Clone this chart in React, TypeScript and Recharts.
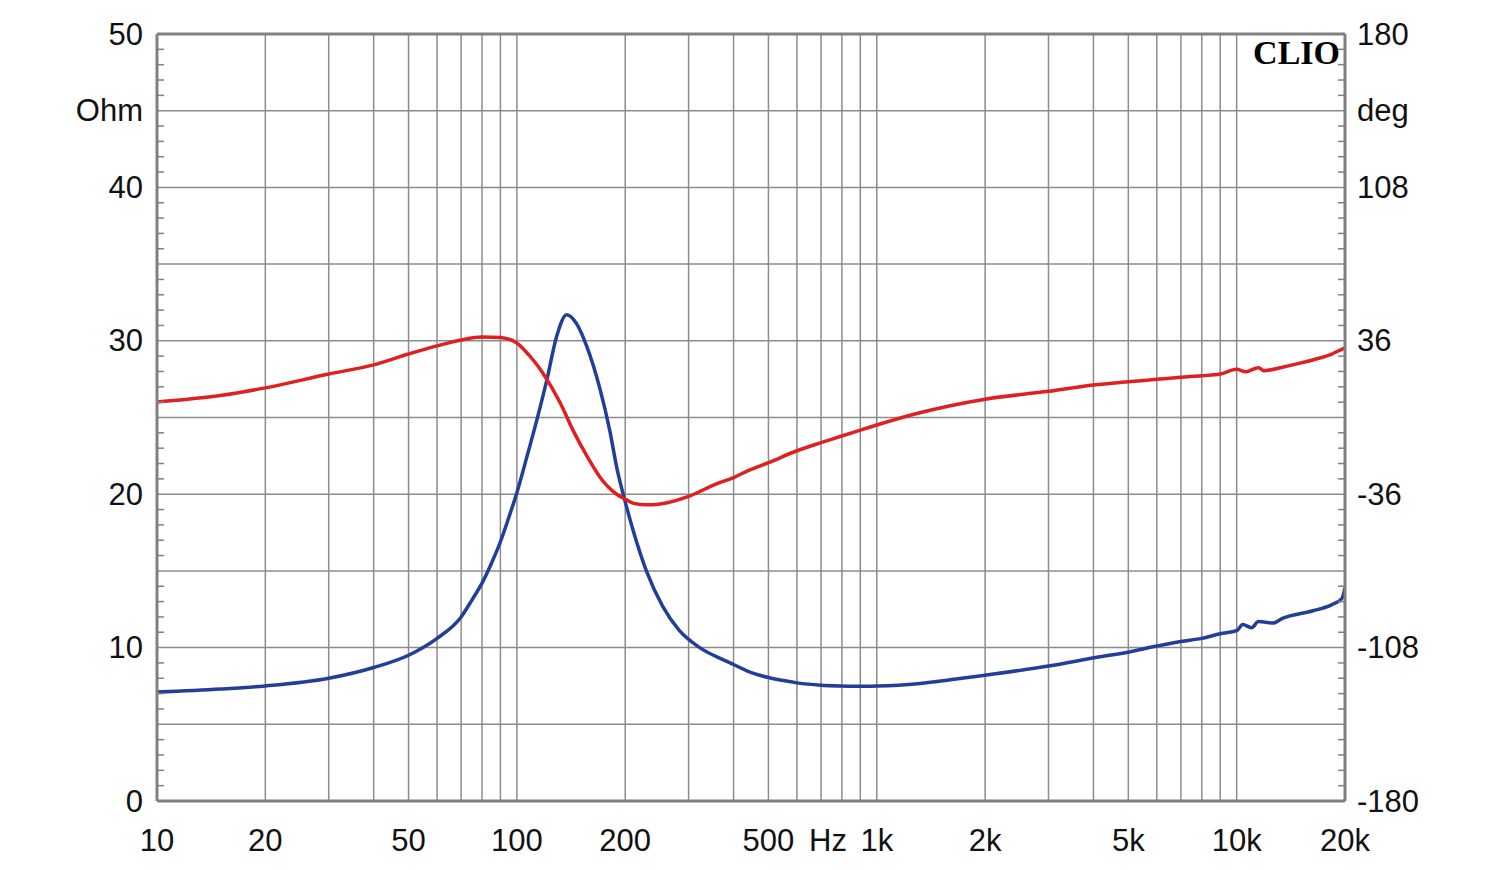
import React from "react";
import {
  LineChart,
  Line,
  XAxis,
  YAxis,
  CartesianGrid,
  ReferenceLine
} from "recharts";

// impedance curve (Ohm, left axis)
const impFreq = [
  10, 15, 20, 30, 40, 50, 60, 70, 75, 80, 85, 90, 95, 100, 106.5, 113.5, 121,
  129, 137.5, 146.6, 156, 170, 181, 190, 200, 210, 229, 254, 283, 322, 375,
  400, 450, 500, 550, 600, 700, 800, 900, 1000, 1300, 1600, 2000, 3000, 4170,
  5000, 6000, 7000, 8000, 9000, 10000, 10400, 11000, 11500, 12600, 13400,
  16300, 18400, 19600, 20000
];
const impOhm = [
  7.1, 7.3, 7.5, 8.0, 8.7, 9.5, 10.6, 12.0, 13.1, 14.2, 15.5, 16.9, 18.5,
  20.1, 22.4, 24.8, 27.4, 30.3, 31.7, 31.1, 29.7, 26.9, 24.2, 21.6, 19.5,
  17.7, 15.0, 12.7, 11.1, 10.0, 9.2, 8.9, 8.35, 8.05, 7.85, 7.7, 7.55, 7.5,
  7.48, 7.5, 7.65, 7.9, 8.2, 8.8, 9.4, 9.7, 10.1, 10.4, 10.6, 10.9, 11.1,
  11.5, 11.3, 11.7, 11.6, 11.9, 12.4, 12.8, 13.2, 13.9
];

// phase curve (deg, right axis)
const phaseFreq = [
  10, 15, 20, 30, 40, 50, 60, 70, 80, 90, 100, 105, 111, 118, 132, 143, 157,
  170, 189, 200, 211, 230, 250, 300, 360, 400, 444, 500, 600, 700, 800, 900,
  1000, 1300, 2000, 3000, 4000, 5000, 6000, 7000, 8000, 9000, 10000, 10600,
  11500, 11900, 13400, 15000, 16900, 18400, 19600, 20000
];
const phaseDeg = [
  7.3, 10.3, 13.9, 20.4, 24.7, 29.8, 33.6, 36.4, 37.8, 37.5, 35.0, 31.6, 27.0,
  20.9, 6.8, -5.8, -18.5, -27.9, -35.9, -38.3, -40.3, -41.0, -40.6, -37.0,
  -31.0, -28.2, -24.6, -21.2, -15.6, -11.8, -8.7, -5.9, -3.5, 2.0, 8.6, 12.3,
  15.3, 16.8, 17.9, 18.9, 19.6, 20.4, 22.6, 21.5, 23.4, 22.0, 23.6, 25.5,
  27.8, 29.8, 32.0, 32.5
];

const freqTicks = [
  10, 20, 30, 40, 50, 60, 70, 80, 90, 100, 200, 300, 400, 500, 600, 700, 800,
  900, 1000, 2000, 3000, 4000, 5000, 6000, 7000, 8000, 9000, 10000, 20000
];
const freqLabels: Record<number, string> = {
  10: "10", 20: "20", 50: "50", 100: "100", 200: "200", 500: "500",
  700: "Hz", 1000: "1k", 2000: "2k", 5000: "5k", 10000: "10k", 20000: "20k"
};

const ohmTicks = Array.from({ length: 51 }, (_, i) => i);
const ohmGrid = [5, 10, 15, 20, 25, 30, 35, 40, 45];
const ohmLabels: Record<number, string> = {
  0: "0", 10: "10", 20: "20", 30: "30", 40: "40", 45: "Ohm", 50: "50"
};
const degLabels: Record<number, string> = {
  0: "-180", 10: "-108", 20: "-36", 30: "36", 40: "108", 45: "deg", 50: "180"
};
const degTicks = ohmTicks.map((o) => o * 7.2 - 180);

const impData = impFreq.map((f, i) => ({ f, v: impOhm[i] }));
const phaseData = phaseFreq.map((f, i) => ({ f, v: phaseDeg[i] }));

const FONT = "'Liberation Sans', Arial, sans-serif";
const AXIS = "#808080";
const GRID = "#8c8c8c";

const OhmTick = (props: any) => {
  const { x, y, payload } = props;
  const v = Math.round(payload.value);
  if (ohmLabels[v] !== undefined)
    return (
      <text x={x - 14} y={y} textAnchor="end" dominantBaseline="central"
        fontFamily={FONT} fontSize={31} fill="#111">
        {ohmLabels[v]}
      </text>
    );
  if (v % 5 === 0) return <g />;
  return <line x1={x} x2={x + 7} y1={y} y2={y} stroke={AXIS} strokeWidth={1.5} />;
};

const DegTick = (props: any) => {
  const { x, y, payload } = props;
  const o = Math.round((payload.value + 180) / 7.2);
  if (degLabels[o] !== undefined)
    return (
      <text x={x + 12} y={y} textAnchor="start" dominantBaseline="central"
        fontFamily={FONT} fontSize={31} fill="#111">
        {degLabels[o]}
      </text>
    );
  if (o % 5 === 0) return <g />;
  return <line x1={x} x2={x - 7} y1={y} y2={y} stroke={AXIS} strokeWidth={1.5} />;
};

const FreqTick = (props: any) => {
  const { x, y, payload } = props;
  const label = freqLabels[payload.value];
  if (!label) return <g />;
  // the unit label sits a little right of its grid line
  const dx = label === "Hz" ? 7 : 0;
  return (
    <text x={x + dx} y={y + 39} textAnchor="middle" dominantBaseline="central"
      fontFamily={FONT} fontSize={31} fill="#111">
      {label}
    </text>
  );
};

const ClioLabel = (props: any) => {
  const { viewBox } = props;
  return (
    <text x={viewBox.x + viewBox.width - 5} y={viewBox.y + 18}
      textAnchor="end" dominantBaseline="central"
      fontFamily="'Liberation Serif', 'Times New Roman', serif"
      fontWeight="bold" fontSize={34} fill="#000">
      CLIO
    </text>
  );
};

export default function App() {
  return (
    <LineChart width={1484} height={854} margin={{ top: 26, right: 0, left: 0, bottom: 0 }}>
      <CartesianGrid horizontal={false} stroke={GRID} strokeWidth={1.5} xAxisId="f" yAxisId="ohm" />
      <XAxis xAxisId="f" dataKey="f" type="number" scale="log" domain={[10, 20000]}
        allowDataOverflow ticks={freqTicks} interval={0} height={61}
        tick={<FreqTick />} tickLine={false} tickSize={0} tickMargin={0}
        axisLine={{ stroke: AXIS, strokeWidth: 3 }} />
      <YAxis yAxisId="ohm" orientation="left" domain={[0, 50]} ticks={ohmTicks}
        interval={0} width={149} tick={<OhmTick />} tickLine={false}
        tickSize={0} tickMargin={0} axisLine={{ stroke: AXIS, strokeWidth: 3 }} />
      <YAxis yAxisId="deg" orientation="right" domain={[-180, 180]} ticks={degTicks}
        interval={0} width={147} tick={<DegTick />} tickLine={false}
        tickSize={0} tickMargin={0} axisLine={{ stroke: AXIS, strokeWidth: 3 }} />
      {ohmGrid.map((g) => (
        <ReferenceLine key={g} y={g} xAxisId="f" yAxisId="ohm" stroke={GRID} strokeWidth={1.5} />
      ))}
      <ReferenceLine y={50} xAxisId="f" yAxisId="ohm" stroke={AXIS} strokeWidth={3}
        label={<ClioLabel />} />
      <Line data={impData} dataKey="v" xAxisId="f" yAxisId="ohm" type="monotone"
        stroke="#223f98" strokeWidth={3.5} dot={false} isAnimationActive={false} />
      <Line data={phaseData} dataKey="v" xAxisId="f" yAxisId="deg" type="monotone"
        stroke="#e02020" strokeWidth={3.5} dot={false} isAnimationActive={false} />
    </LineChart>
  );
}
